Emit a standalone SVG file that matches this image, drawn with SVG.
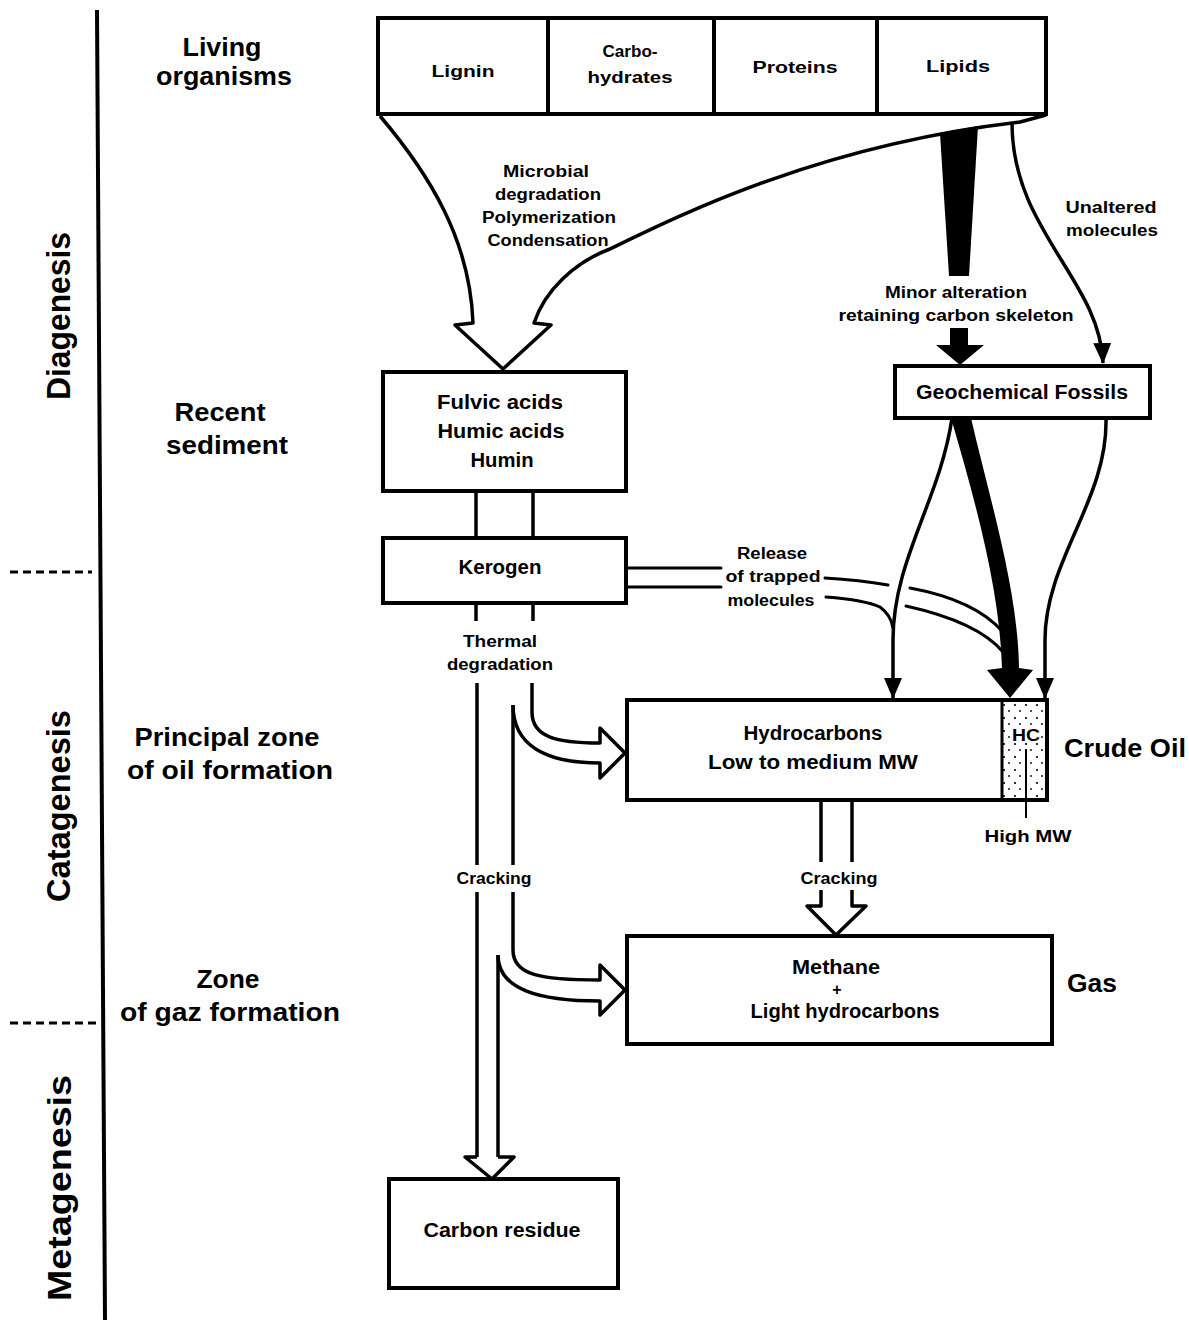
<svg xmlns="http://www.w3.org/2000/svg" width="1189" height="1320" viewBox="0 0 1189 1320">
<defs>
<style>
.ln{fill:none;stroke:#000;stroke-width:3.5;stroke-linejoin:round}
.thin{fill:none;stroke:#000;stroke-width:3;stroke-linecap:round}
.ho{fill:#fff;stroke:#000;stroke-width:3.5;stroke-linejoin:round}
.box{fill:#fff;stroke:#000;stroke-width:4}
.blk{fill:#000;stroke:none}
.t{font-family:"Liberation Sans",Arial,sans-serif;font-weight:bold;text-anchor:middle;fill:#000}
.s{font-size:16px}
.n{font-size:20px}
.b{font-size:25px}
.l{font-size:26px}
.r{font-size:34px}
</style>
<marker id="ah" markerUnits="userSpaceOnUse" markerWidth="22" markerHeight="18" refX="20" refY="9" orient="auto" viewBox="0 0 22 18"><path d="M0,0 L21,9 L0,18 Z" fill="#000"/></marker>
<pattern id="dots" width="11" height="13" patternUnits="userSpaceOnUse"><circle cx="3" cy="3" r="1.1" fill="#000"/><circle cx="8" cy="9" r="0.9" fill="#000"/></pattern>
</defs>
<rect x="0" y="0" width="1189" height="1320" fill="#fff"/>

<g id="axis">
<line x1="97" y1="10" x2="105" y2="1320" stroke="#000" stroke-width="4"/>
<line x1="10" y1="572" x2="92" y2="572" stroke="#000" stroke-width="3" stroke-dasharray="8 5"/>
<line x1="10" y1="1023" x2="98" y2="1023" stroke="#000" stroke-width="3" stroke-dasharray="8 5"/>
<text class="t r" transform="translate(70,316) rotate(-90)" textLength="168" lengthAdjust="spacingAndGlyphs">Diagenesis</text>
<text class="t r" transform="translate(70,806) rotate(-90)" textLength="192" lengthAdjust="spacingAndGlyphs">Catagenesis</text>
<text class="t r" transform="translate(71,1188) rotate(-90)" textLength="226" lengthAdjust="spacingAndGlyphs">Metagenesis</text>
</g>

<g id="stage-labels">
<text class="t l" x="222" y="56" textLength="79" lengthAdjust="spacingAndGlyphs">Living</text>
<text class="t l" x="224" y="85" textLength="136" lengthAdjust="spacingAndGlyphs">organisms</text>
<text class="t l" x="220" y="421" textLength="91" lengthAdjust="spacingAndGlyphs">Recent</text>
<text class="t l" x="227" y="454" textLength="122" lengthAdjust="spacingAndGlyphs">sediment</text>
<text class="t l" x="227" y="746" textLength="185" lengthAdjust="spacingAndGlyphs">Principal zone</text>
<text class="t l" x="230" y="779" textLength="206" lengthAdjust="spacingAndGlyphs">of oil formation</text>
<text class="t l" x="228" y="988" textLength="63" lengthAdjust="spacingAndGlyphs">Zone</text>
<text class="t l" x="230" y="1021" textLength="220" lengthAdjust="spacingAndGlyphs">of gaz formation</text>
</g>

<g id="connectors">
<!-- big hollow funnel arrow -->
<path class="ho" d="M380,116 C430,175 470,240 473,323 L455,325 L503,369 L551,325 L534,323 C545,290 575,262 610,249 C680,215 820,145 1020,122 L1046,115"/>
<text class="t s" x="546" y="177" textLength="86" lengthAdjust="spacingAndGlyphs">Microbial</text>
<text class="t s" x="548" y="200" textLength="106" lengthAdjust="spacingAndGlyphs">degradation</text>
<text class="t s" x="549" y="223" textLength="134" lengthAdjust="spacingAndGlyphs">Polymerization</text>
<text class="t s" x="548" y="246" textLength="121" lengthAdjust="spacingAndGlyphs">Condensation</text>
<!-- minor alteration -->
<path class="blk" d="M940,133 L978,126 L969,276 L949,276 Z"/>
<path class="blk" d="M950,328 L968,328 L968,345 L984,345 L960,365 L936,345 L950,345 Z"/>
<text class="t s" x="956" y="298" textLength="142" lengthAdjust="spacingAndGlyphs">Minor alteration</text>
<text class="t s" x="956" y="321" textLength="235" lengthAdjust="spacingAndGlyphs">retaining carbon skeleton</text>
<!-- unaltered molecules -->
<path class="ln" d="M1012,123 C1012,230 1100,280 1103,363" marker-end="url(#ah)"/>
<text class="t s" x="1111" y="213" textLength="91" lengthAdjust="spacingAndGlyphs">Unaltered</text>
<text class="t s" x="1112" y="236" textLength="92" lengthAdjust="spacingAndGlyphs">molecules</text>
<!-- fulvic to kerogen -->
<path class="ln" d="M476,491 L476,538 M533,491 L533,538"/>
<!-- release of trapped molecules -->
<path class="thin" d="M628,568 L721,568 M628,587 L721,587"/>
<path class="thin" d="M825,578 Q860,580 888,585 M910,588 Q975,600 1003,632"/>
<path class="thin" d="M826,597 Q865,600 880,607 Q891,615 893,628 M906,606 Q978,622 1003,652"/>
<text class="t s" x="772" y="559" textLength="70" lengthAdjust="spacingAndGlyphs">Release</text>
<text class="t s" x="773" y="582" textLength="95" lengthAdjust="spacingAndGlyphs">of trapped</text>
<text class="t s" x="771" y="606" textLength="87" lengthAdjust="spacingAndGlyphs">molecules</text>
<!-- geochemical fossils to crude oil -->
<path class="ln" d="M952,418 C940,500 893,560 893,640 L893,698" marker-end="url(#ah)"/>
<path class="blk" d="M951,418 L971,418 C990,500 1018,590 1019,668 L1033,670 L1010,698 L987,670 L1002,668 C1000,590 975,500 951,418 Z"/>
<path class="ln" d="M1106,418 C1108,500 1045,560 1045,640 L1045,698" marker-end="url(#ah)"/>
<!-- thermal degradation -->
<path class="ln" d="M476,603 L476,621 M533,603 L533,621"/>
<text class="t s" x="500" y="647" textLength="74" lengthAdjust="spacingAndGlyphs">Thermal</text>
<text class="t s" x="500" y="670" textLength="106" lengthAdjust="spacingAndGlyphs">degradation</text>
<path class="ln" d="M477,683 L477,865 M477,892 L477,1157"/>
<path class="ho" d="M532,683 L532,712 C532,737 556,743 600,743 L600,728 L625,753 L600,778 L600,763 C545,763 513,745 513,705"/>
<path class="ln" d="M513,705 L513,865"/>
<path class="ho" d="M513,892 L513,950 C513,975 540,980 600,980 L600,965 L625,990 L600,1015 L600,1001 C540,1001 498,990 498,955"/>
<path class="ln" d="M498,955 L498,1157 M477,1157 L465,1157 L492,1179 L514,1157 L498,1157"/>
<text class="t s" x="494" y="884" textLength="75" lengthAdjust="spacingAndGlyphs">Cracking</text>
<!-- hydrocarbons to gas -->
<path class="ln" d="M821,802 L821,862 M852,862 L852,802"/>
<path class="ho" d="M821,890 L821,906 L807,906 L836,935 L866,906 L852,906 L852,890"/>
<text class="t s" x="839" y="884" textLength="77" lengthAdjust="spacingAndGlyphs">Cracking</text>
<!-- high MW pointer -->
<line x1="1026" y1="749" x2="1026" y2="818" stroke="#000" stroke-width="2"/>
</g>

<g id="node-living">
<rect class="box" x="378" y="18" width="668" height="96"/>
<line x1="548" y1="18" x2="548" y2="114" stroke="#000" stroke-width="4"/>
<line x1="714" y1="18" x2="714" y2="114" stroke="#000" stroke-width="4"/>
<line x1="877" y1="18" x2="877" y2="114" stroke="#000" stroke-width="4"/>
<text class="t s" x="463" y="77" textLength="63" lengthAdjust="spacingAndGlyphs">Lignin</text>
<text class="t s" x="630" y="57" textLength="55" lengthAdjust="spacingAndGlyphs">Carbo-</text>
<text class="t s" x="630" y="83" textLength="85" lengthAdjust="spacingAndGlyphs">hydrates</text>
<text class="t s" x="795" y="73" textLength="85" lengthAdjust="spacingAndGlyphs">Proteins</text>
<text class="t s" x="958" y="72" textLength="64" lengthAdjust="spacingAndGlyphs">Lipids</text>
</g>

<g id="node-recent">
<rect class="box" x="383" y="372" width="243" height="119"/>
<text class="t n" x="500" y="409" textLength="126" lengthAdjust="spacingAndGlyphs">Fulvic acids</text>
<text class="t n" x="501" y="438" textLength="127" lengthAdjust="spacingAndGlyphs">Humic acids</text>
<text class="t n" x="502" y="467" textLength="63" lengthAdjust="spacingAndGlyphs">Humin</text>
</g>

<g id="node-kerogen">
<rect class="box" x="383" y="538" width="243" height="65"/>
<text class="t n" x="500" y="574" textLength="83" lengthAdjust="spacingAndGlyphs">Kerogen</text>
</g>

<g id="node-geochem">
<rect class="box" x="895" y="366" width="255" height="52"/>
<text class="t n" x="1022" y="399" textLength="212" lengthAdjust="spacingAndGlyphs">Geochemical Fossils</text>
</g>

<g id="node-oil">
<rect class="box" x="627" y="700" width="420" height="100"/>
<rect x="1002" y="702" width="43" height="96" fill="url(#dots)"/>
<line x1="1002" y1="700" x2="1002" y2="800" stroke="#000" stroke-width="3"/>
<line x1="1026" y1="749" x2="1026" y2="800" stroke="#000" stroke-width="2"/>
<rect x="1013" y="725" width="26" height="18" fill="#fff"/>
<text class="t n" x="813" y="740" textLength="139" lengthAdjust="spacingAndGlyphs">Hydrocarbons</text>
<text class="t n" x="813" y="769" textLength="210" lengthAdjust="spacingAndGlyphs">Low to medium MW</text>
<text class="t s" x="1026" y="741" textLength="28" lengthAdjust="spacingAndGlyphs">HC</text>
<text class="t b" x="1125" y="757" textLength="122" lengthAdjust="spacingAndGlyphs">Crude Oil</text>
<text class="t s" x="1028" y="842" textLength="87" lengthAdjust="spacingAndGlyphs">High MW</text>
</g>

<g id="node-gas">
<rect class="box" x="627" y="936" width="425" height="108"/>
<text class="t n" x="836" y="974" textLength="88" lengthAdjust="spacingAndGlyphs">Methane</text>
<text class="t s" x="837" y="995">+</text>
<text class="t n" x="845" y="1018" textLength="189" lengthAdjust="spacingAndGlyphs">Light hydrocarbons</text>
<text class="t b" x="1092" y="992" textLength="50" lengthAdjust="spacingAndGlyphs">Gas</text>
</g>

<g id="node-carbon">
<rect class="box" x="389" y="1179" width="229" height="109"/>
<text class="t n" x="502" y="1237" textLength="157" lengthAdjust="spacingAndGlyphs">Carbon residue</text>
</g>
</svg>
